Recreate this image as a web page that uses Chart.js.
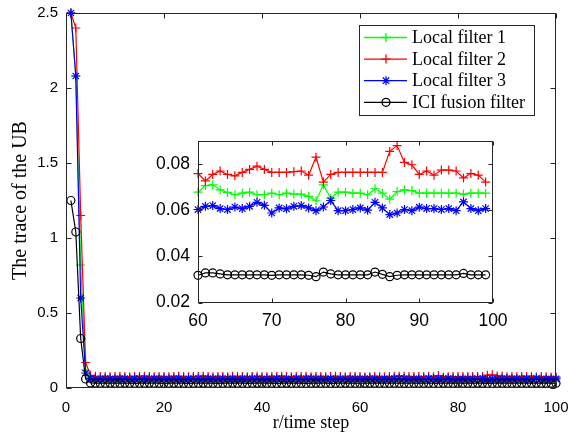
<!DOCTYPE html>
<html>
<head>
<meta charset="utf-8">
<script src="https://cdn.jsdelivr.net/npm/chart.js@4.4.1/dist/chart.umd.min.js"></script>
<style>
  body { margin: 0; background: #fff; }
  #wrap { position: relative; width: 578px; height: 445px; }
  #main { position: absolute; left: 0; top: 0; }
  #inset { position: absolute; left: 130px; top: 130px; }
</style>
</head>
<body>
<div id="wrap">
  <canvas id="main" width="578" height="445"></canvas>
  <canvas id="inset" width="400" height="215"></canvas>
</div>
<script>
/* ==================
    DATOS
================== */

const steps = Array.from({ length: 100 }, (_, i) => i + 1);

const filtro1 = [
    2.5, 2.08, 0.82, 0.12, 0.072, 0.069, 0.068, 0.067, 0.068, 0.069,
    0.067, 0.066, 0.068, 0.067, 0.069, 0.068, 0.067, 0.066, 0.068, 0.070,
    0.067, 0.068, 0.066, 0.067, 0.069, 0.068, 0.067, 0.068, 0.066, 0.067,
    0.068, 0.070, 0.067, 0.066, 0.068, 0.067, 0.068, 0.069, 0.067, 0.066,
    0.068, 0.067, 0.068, 0.066, 0.067, 0.069, 0.068, 0.067, 0.066, 0.068,
    0.067, 0.069, 0.068, 0.067, 0.066, 0.068, 0.067, 0.068, 0.069, 0.0678,
    0.0707, 0.071, 0.0688, 0.0677, 0.0667, 0.0674, 0.0678, 0.0667, 0.0667, 0.0674,
    0.0667, 0.0674, 0.067, 0.067, 0.066, 0.0641, 0.071, 0.0652, 0.0678, 0.0678,
    0.0674, 0.0674, 0.0667, 0.0693, 0.0674, 0.0648, 0.0681, 0.0688, 0.0685, 0.0674,
    0.0674, 0.0674, 0.0674, 0.0674, 0.0674, 0.067, 0.0674, 0.0674, 0.0674, 0.0674
];

const filtro2 = [
    2.5, 2.4, 1.15, 0.17, 0.085, 0.078, 0.076, 0.077, 0.075, 0.076,
    0.078, 0.076, 0.075, 0.077, 0.076, 0.079, 0.076, 0.075, 0.077, 0.076,
    0.075, 0.077, 0.078, 0.076, 0.075, 0.076, 0.077, 0.079, 0.076, 0.075,
    0.077, 0.076, 0.075, 0.078, 0.076, 0.077, 0.075, 0.076, 0.078, 0.076,
    0.075, 0.077, 0.076, 0.079, 0.076, 0.075, 0.077, 0.076, 0.078, 0.075,
    0.076, 0.077, 0.075, 0.076, 0.078, 0.076, 0.075, 0.077, 0.076, 0.0759,
    0.0727, 0.0755, 0.077, 0.0755, 0.0749, 0.0764, 0.0777, 0.0791, 0.0777, 0.0764,
    0.0764, 0.0764, 0.0767, 0.077, 0.0752, 0.083, 0.0722, 0.0755, 0.0764, 0.0764,
    0.0764, 0.0764, 0.0764, 0.0764, 0.0764, 0.0855, 0.088, 0.0807, 0.0797, 0.0755,
    0.077, 0.0752, 0.0774, 0.0774, 0.077, 0.074, 0.0759, 0.0752, 0.0722, 0.073
];

const filtro3 = [
    2.5, 2.08, 0.6, 0.1, 0.064, 0.061, 0.06, 0.062, 0.061, 0.06,
    0.061, 0.062, 0.06, 0.061, 0.063, 0.06, 0.061, 0.062, 0.06, 0.061,
    0.06, 0.062, 0.061, 0.06, 0.061, 0.063, 0.061, 0.06, 0.062, 0.061,
    0.06, 0.061, 0.062, 0.06, 0.061, 0.06, 0.062, 0.061, 0.063, 0.06,
    0.061, 0.06, 0.062, 0.061, 0.06, 0.061, 0.062, 0.06, 0.061, 0.063,
    0.061, 0.06, 0.061, 0.062, 0.06, 0.061, 0.062, 0.06, 0.061, 0.0603,
    0.0617, 0.062, 0.0607, 0.0603, 0.0614, 0.0607, 0.0617, 0.0634, 0.0621, 0.0588,
    0.061, 0.0606, 0.0617, 0.062, 0.061, 0.0598, 0.0614, 0.0642, 0.0598, 0.0598,
    0.0603, 0.061, 0.06, 0.0634, 0.061, 0.0581, 0.0588, 0.0603, 0.0598, 0.0613,
    0.0607, 0.0607, 0.0603, 0.0607, 0.0598, 0.0636, 0.0607, 0.0598, 0.0607, 0.061
];

const fusionICI = [
    1.25, 1.04, 0.33, 0.06, 0.034, 0.033, 0.032, 0.032, 0.033, 0.032,
    0.032, 0.033, 0.032, 0.031, 0.032, 0.032, 0.033, 0.032, 0.032, 0.031,
    0.032, 0.033, 0.032, 0.032, 0.031, 0.032, 0.032, 0.033, 0.032, 0.032,
    0.031, 0.032, 0.032, 0.033, 0.032, 0.032, 0.031, 0.032, 0.033, 0.032,
    0.032, 0.032, 0.031, 0.032, 0.033, 0.032, 0.032, 0.032, 0.031, 0.032,
    0.033, 0.032, 0.032, 0.031, 0.032, 0.032, 0.033, 0.032, 0.032, 0.0318,
    0.0328, 0.0328, 0.0324, 0.032, 0.032, 0.032, 0.032, 0.032, 0.032, 0.0318,
    0.032, 0.032, 0.032, 0.032, 0.0318, 0.0312, 0.0332, 0.0324, 0.032, 0.032,
    0.032, 0.032, 0.032, 0.0332, 0.0322, 0.0312, 0.0318, 0.032, 0.032, 0.032,
    0.032, 0.032, 0.032, 0.032, 0.032, 0.0326, 0.032, 0.032, 0.032, 0.032
];

const nombres = ['Local filter 1', 'Local filter 2', 'Local filter 3', 'ICI fusion filter'];
const colores = ['#00ff00', '#ff0000', '#0000ff', '#000000'];
const marcas = ['cross', 'cross', 'star', 'circle'];

const ticksX = [0, 20, 40, 60, 80, 100];
const ticksY = [0, 0.5, 1, 1.5, 2, 2.5];
const ticksXInset = [60, 70, 80, 90, 100];
const ticksYInset = [0.02, 0.04, 0.06, 0.08];

// el recuadro pequeño muestra los pasos 60..99
const desde = 60, hasta = 99;

/* ==================
    ESTILO MATLAB
================== */

const ejeColor = '#262626';
const fuenteNum = 'Liberation Sans, Arial, sans-serif';
const fuenteTxt = 'Liberation Serif, Times New Roman, serif';

// caja y marcas hacia adentro en los cuatro lados
const cajaMatlab = {
    id: 'cajaMatlab',
    afterDraw(chart, args, opts) {
        const { ctx, chartArea: a, scales: { x, y } } = chart;
        const L = Math.round(a.left) + 0.5, R = Math.round(a.right) - 0.5;
        const T = Math.round(a.top) + 0.5, B = Math.round(a.bottom) - 0.5;
        const len = opts.len || 5;
        ctx.save();
        ctx.strokeStyle = ejeColor;
        ctx.lineWidth = 1;
        ctx.beginPath();
        x.ticks.forEach(t => {
            const px = Math.round(x.getPixelForValue(t.value)) + 0.5;
            ctx.moveTo(px, B); ctx.lineTo(px, B - len);
            ctx.moveTo(px, T); ctx.lineTo(px, T + len);
        });
        y.ticks.forEach(t => {
            const py = Math.round(y.getPixelForValue(t.value)) + 0.5;
            ctx.moveTo(L, py); ctx.lineTo(L + len, py);
            ctx.moveTo(R, py); ctx.lineTo(R - len, py);
        });
        ctx.stroke();
        ctx.strokeRect(L, T, R - L, B - T);
        ctx.restore();
    }
};

// leyenda dibujada a mano (linea + marca + texto)
const leyenda = {
    id: 'leyenda',
    afterDraw(chart) {
        const ctx = chart.ctx;
        const bx = 359.5, by = 25.5, bw = 175, bh = 90;
        ctx.save();
        ctx.fillStyle = '#fff';
        ctx.fillRect(bx, by, bw, bh);
        ctx.strokeStyle = ejeColor;
        ctx.lineWidth = 1;
        ctx.strokeRect(bx, by, bw, bh);
        ctx.font = '18px ' + fuenteTxt;
        ctx.textBaseline = 'middle';
        nombres.forEach((n, i) => {
            const yy = 37.5 + i * 21.6;
            ctx.strokeStyle = colores[i];
            ctx.lineWidth = 1.3;
            ctx.beginPath();
            ctx.moveTo(364, yy); ctx.lineTo(407, yy);
            ctx.stroke();
            ctx.fillStyle = 'rgba(0,0,0,0)';
            Chart.helpers.drawPoint(ctx, {
                pointStyle: marcas[i], radius: i === 3 ? 4 : 4.5, rotation: 0, borderWidth: 1.3
            }, 386, yy);
            ctx.fillStyle = '#000';
            ctx.fillText(n, 412, yy + 1);
        });
        ctx.restore();
    }
};

function series(xs, tomar) {
    return [filtro1, filtro2, filtro3, fusionICI].map((d, i) => ({
        label: nombres[i],
        data: tomar(d).map((v, k) => ({ x: xs[k], y: v })),
        borderColor: colores[i],
        backgroundColor: colores[i],
        borderWidth: 1.2,
        pointStyle: marcas[i],
        pointRadius: i === 3 ? 4 : 4.5,
        pointBorderWidth: 1.2,
        pointBorderColor: colores[i],
        pointBackgroundColor: 'rgba(0,0,0,0)',
        tension: 0,
        clip: false,
        order: 3 - i
    }));
}

// quitar el relleno automatico que chart.js mete por las etiquetas
function sinRelleno(s) {
    s.paddingLeft = 0; s.paddingRight = 0;
    s.paddingTop = 0; s.paddingBottom = 0;
}

function ejes(opc) {
    return {
        x: {
            type: 'linear', min: opc.xmin, max: opc.xmax,
            afterBuildTicks: s => { s.ticks = opc.tx.map(v => ({ value: v })); },
            afterFit: s => { s.height = opc.alto; sinRelleno(s); },
            grid: { display: false, drawTicks: false },
            border: { display: false },
            ticks: { color: '#000', padding: opc.padX, font: { family: fuenteNum, size: opc.tam }, maxRotation: 0 },
            title: opc.tituloX ? {
                display: true, text: opc.tituloX, color: '#000',
                font: { family: fuenteTxt, size: 18 }, padding: { top: 0, bottom: 11 }
            } : { display: false }
        },
        y: {
            type: 'linear', min: opc.ymin, max: opc.ymax,
            afterBuildTicks: s => { s.ticks = opc.ty.map(v => ({ value: v })); },
            afterFit: s => { s.width = opc.ancho; sinRelleno(s); },
            grid: { display: false, drawTicks: false },
            border: { display: false },
            ticks: { color: '#000', padding: 8, font: { family: fuenteNum, size: opc.tam }, callback: opc.fmt },
            title: opc.tituloY ? {
                display: true, text: opc.tituloY, color: '#000',
                font: { family: fuenteTxt, size: 20 }, padding: { top: 9, bottom: 0 }
            } : { display: false }
        }
    };
}

/* ==================
    GRAFICA PRINCIPAL
================== */

new Chart(document.getElementById('main').getContext('2d'), {
    type: 'line',
    data: { datasets: series(steps, d => d) },
    options: {
        responsive: false,
        animation: false,
        layout: { autoPadding: false, padding: { left: 0, right: 22, top: 13, bottom: 0 } },
        plugins: { legend: { display: false }, tooltip: { enabled: false }, cajaMatlab: { len: 5 } },
        scales: ejes({
            xmin: 0, xmax: 100, ymin: 0, ymax: 2.5, tx: ticksX, ty: ticksY,
            alto: 57, ancho: 66, padX: 11, tam: 15,
            tituloX: 'r/time step', tituloY: 'The trace of the UB',
            fmt: v => String(v)
        })
    },
    plugins: [cajaMatlab, leyenda]
});

/* ==================
    RECUADRO (ZOOM)
================== */

const pasosInset = steps.slice(desde - 1, hasta);

new Chart(document.getElementById('inset').getContext('2d'), {
    type: 'line',
    data: { datasets: series(pasosInset, d => d.slice(desde - 1, hasta)) },
    options: {
        responsive: false,
        animation: false,
        layout: { autoPadding: false, padding: { left: 0, right: 37, top: 11, bottom: 0 } },
        plugins: { legend: { display: false }, tooltip: { enabled: false }, cajaMatlab: { len: 4 } },
        scales: ejes({
            xmin: 60, xmax: 100, ymin: 0.02, ymax: 0.09, tx: ticksXInset, ty: ticksYInset,
            alto: 42.5, ancho: 68, padX: 8, tam: 17.5,
            fmt: v => v.toFixed(2)
        })
    },
    plugins: [cajaMatlab]
});
</script>
</body>
</html>
